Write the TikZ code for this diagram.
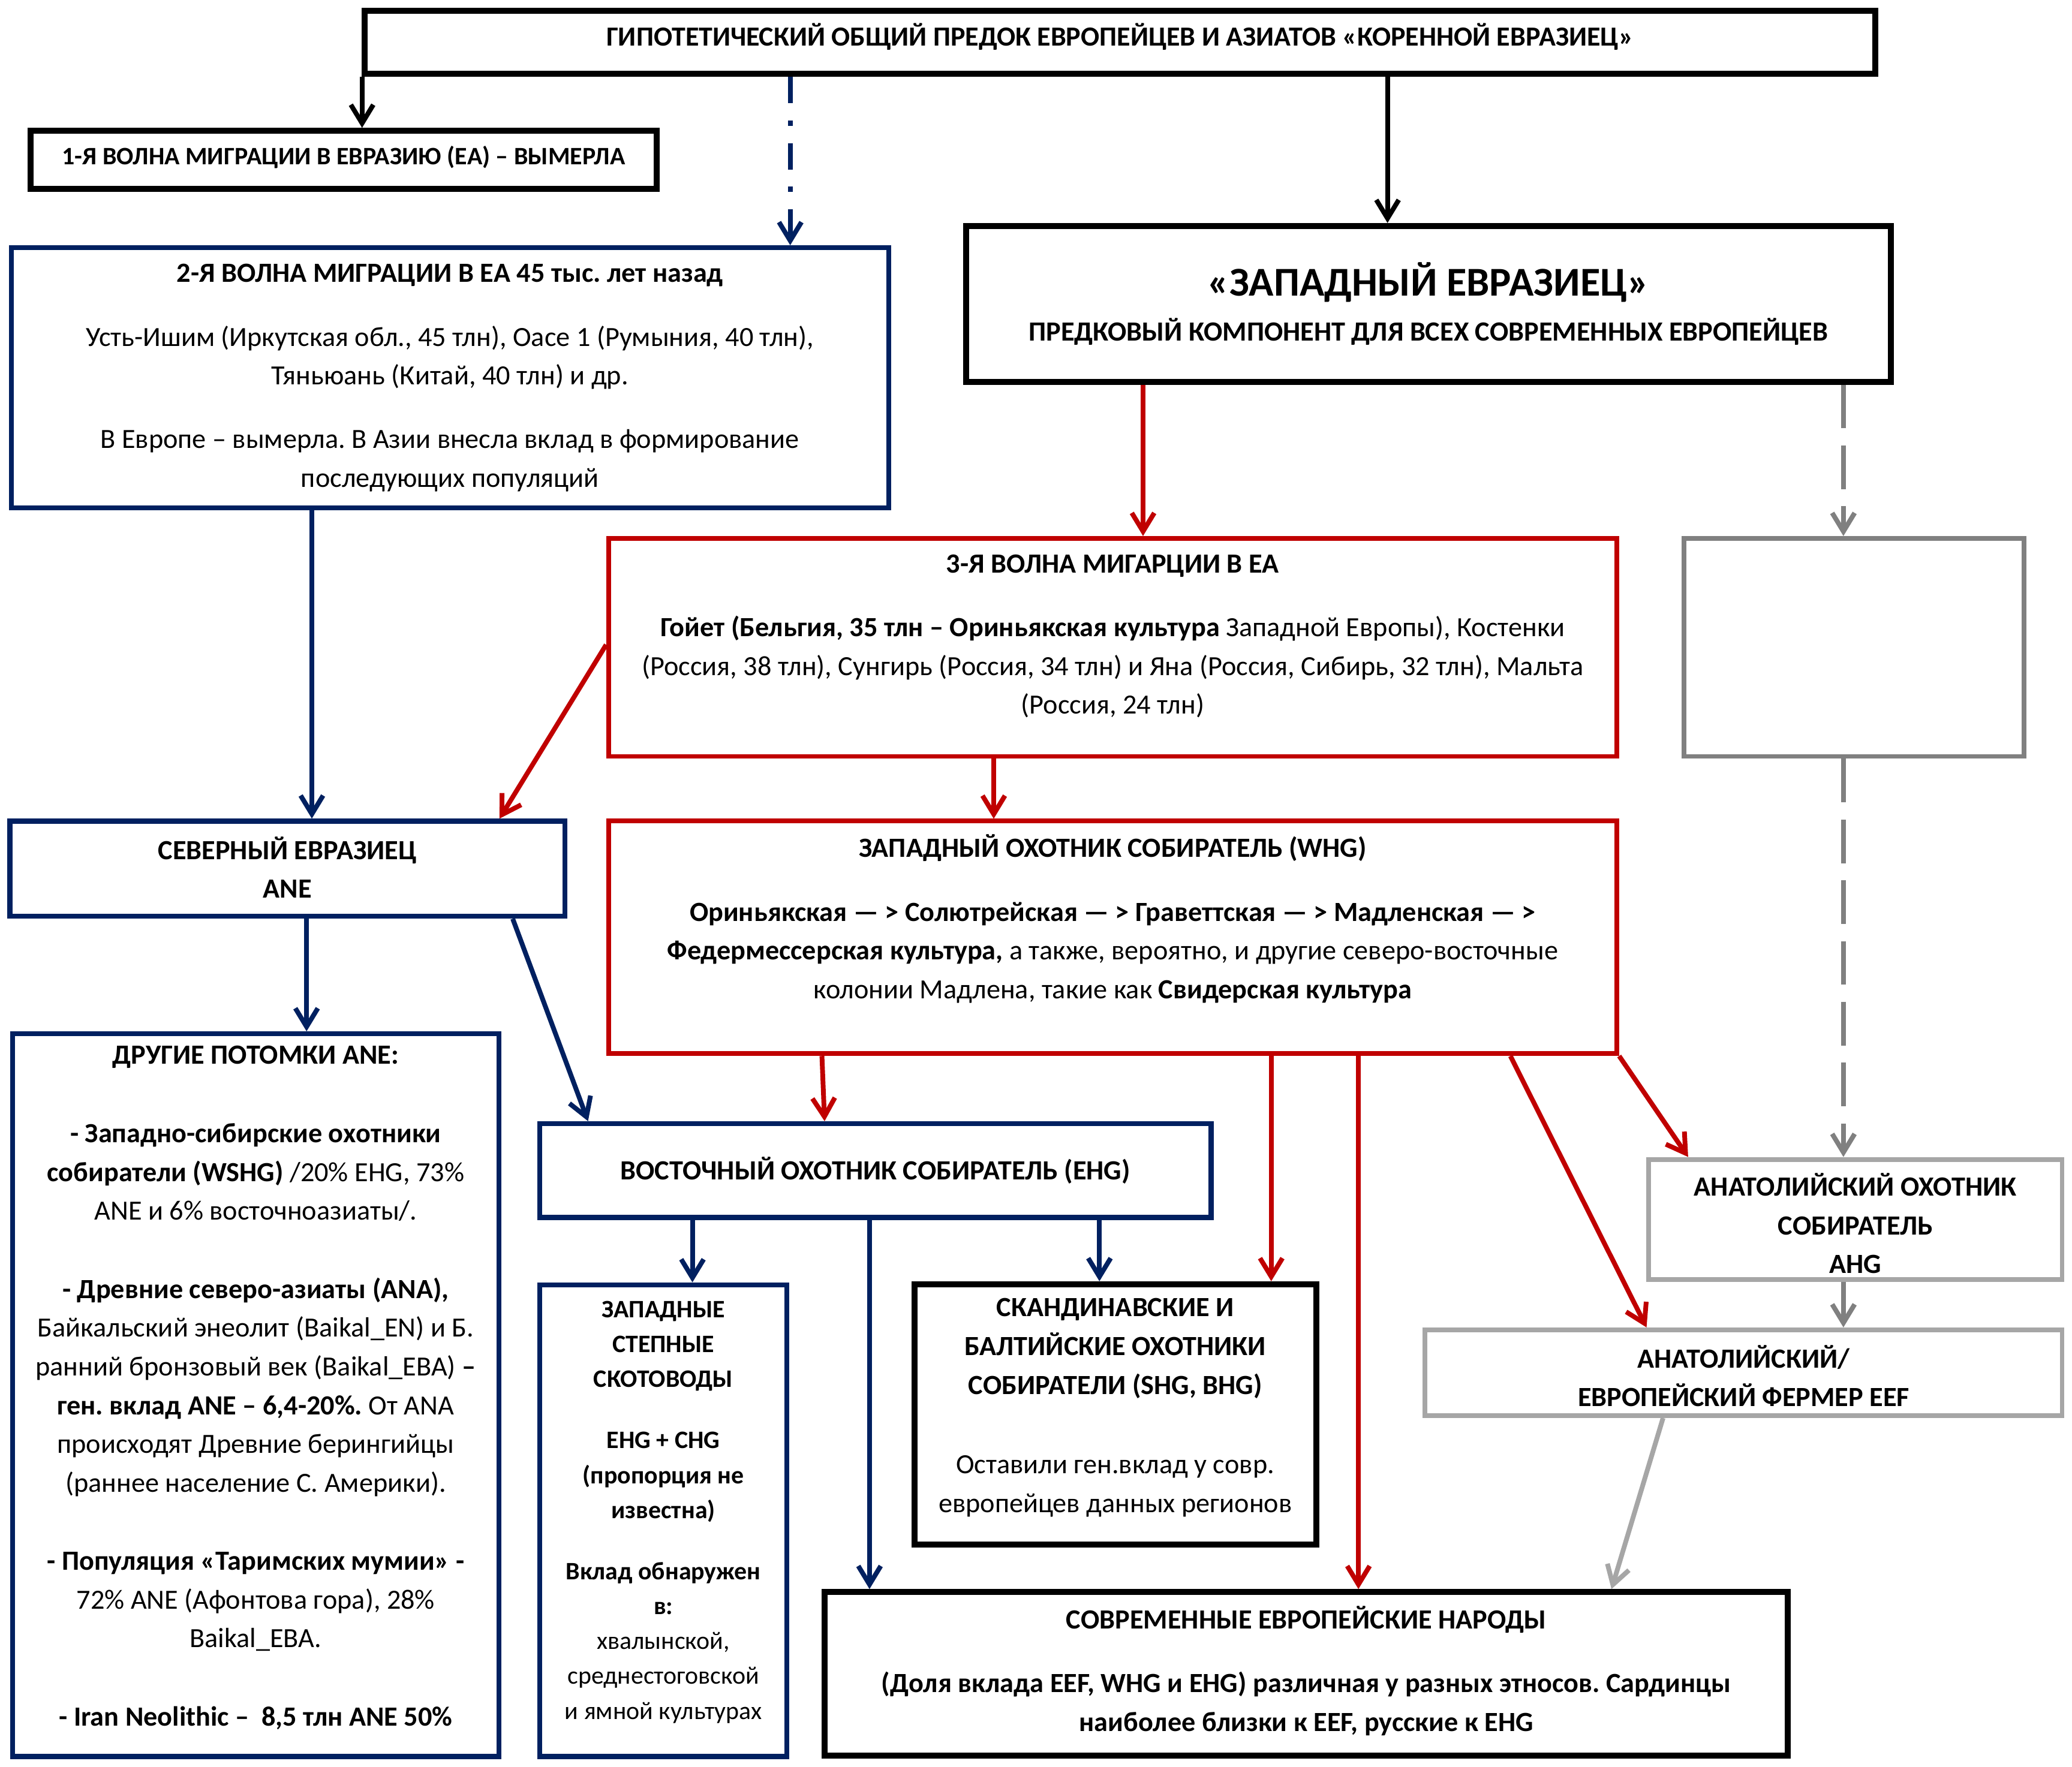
\documentclass[tikz,border=0pt]{standalone}
\usepackage{fontspec}
\setmainfont{Carlito}
\frenchspacing
\usetikzlibrary{arrows.meta,calc}
\definecolor{navy}{HTML}{002060}
\definecolor{dred}{HTML}{C00000}
\definecolor{gdark}{HTML}{808080}
\definecolor{glight}{HTML}{A6A6A6}
\tikzset{
  frame/.style={rectangle, inner sep=0pt, draw=#1},
  bbox/.style={frame=black, line width=4.5pt},
  nbox/.style={frame=navy, line width=3.8pt},
  rbox/.style={frame=dred, line width=3.6pt},
  gbox/.style={frame=gdark, line width=3.6pt},
  lbox/.style={frame=glight, line width=3.6pt},
  txt/.style={align=center, inner sep=0pt, font=\fontsize{#1}{29.3}\selectfont},
  txt/.default=21,
  arr/.style={line width=3.6pt, draw=#1, -{Straight Barb[length=14pt,width=17pt]}},
}
\begin{document}
\begin{tikzpicture}[x=1pt,y=-1pt]
\fill[white] (0,0) rectangle (1568,1337.4);
\useasboundingbox (0,0) rectangle (1568,1337.4);

% boxes
\node[bbox, minimum width=1143pt, minimum height=48pt] (top) at (847.5,32) {};
\node[bbox, minimum width=474pt, minimum height=44pt] (w1) at (260,121) {};
\node[nbox, minimum width=664pt, minimum height=197pt] (w2) at (340.5,286) {};
\node[bbox, minimum width=700pt, minimum height=118pt] (west) at (1081,230) {};
\node[rbox, minimum width=763pt, minimum height=165pt] (w3) at (842,490) {};
\node[gbox, minimum width=257pt, minimum height=165pt] (gray) at (1403,490) {};
\node[nbox, minimum width=420pt, minimum height=72pt] (ane) at (217.5,657.5) {};
\node[rbox, minimum width=763pt, minimum height=176pt] (whg) at (842,709.5) {};
\node[nbox, minimum width=368pt, minimum height=547pt] (desc) at (193.5,1056) {};
\node[nbox, minimum width=508pt, minimum height=71pt] (ehg) at (662.5,886) {};
\node[nbox, minimum width=187pt, minimum height=357pt] (steppe) at (502,1151) {};
\node[bbox, minimum width=304pt, minimum height=197pt] (scand) at (844,1070.5) {};
\node[lbox, minimum width=313pt, minimum height=91pt] (ahg) at (1404,923) {};
\node[lbox, minimum width=482pt, minimum height=65pt] (eef) at (1319.5,1039) {};
\node[bbox, minimum width=729pt, minimum height=124pt] (modern) at (988.5,1267) {};

% texts
\node[txt=20.9] (top-t) at (847.5,28) {\textbf{ГИПОТЕТИЧЕСКИЙ ОБЩИЙ ПРЕДОК ЕВРОПЕЙЦЕВ И АЗИАТОВ «КОРЕННОЙ ЕВРАЗИЕЦ»}};
\node[txt=19] (w1-t) at (260,119) {\textbf{1-Я ВОЛНА МИГРАЦИИ В ЕВРАЗИЮ (ЕА) – ВЫМЕРЛА}};
\node[txt] (w2-t) at (340.5,286) {\textbf{2-Я ВОЛНА МИГРАЦИИ В ЕА 45 тыс. лет назад}\\[19pt]
  Усть-Ишим (Иркутская обл., 45 тлн), Оасе 1 (Румыния, 40 тлн),\\
  Тяньюань (Китай, 40 тлн) и др.\\[19pt]
  В Европе – вымерла. В Азии внесла вклад в формирование\\
  последующих популяций};
\node[txt] (west-t) at (1081,230) {{\fontsize{31}{31}\selectfont\bfseries «ЗАПАДНЫЙ ЕВРАЗИЕЦ»}\\[5pt]
  \textbf{ПРЕДКОВЫЙ КОМПОНЕНТ ДЛЯ ВСЕХ СОВРЕМЕННЫХ ЕВРОПЕЙЦЕВ}};
\node[txt] (w3-t) at (842,481.5) {\textbf{3-Я ВОЛНА МИГАРЦИИ В ЕА}\\[19pt]
  \textbf{Гойет (Бельгия, 35 тлн – Ориньякская культура} Западной Европы), Костенки\\
  (Россия, 38 тлн), Сунгирь (Россия, 34 тлн) и Яна (Россия, Сибирь, 32 тлн), Мальта\\
  (Россия, 24 тлн)};
\node[txt] (ane-t) at (217.5,656.5) {\textbf{СЕВЕРНЫЙ ЕВРАЗИЕЦ}\\ \textbf{ANE}};
\node[txt] (whg-t) at (842,695.5) {\textbf{ЗАПАДНЫЙ ОХОТНИК СОБИРАТЕЛЬ (WHG)}\\[19pt]
  \textbf{Ориньякская — > Солютрейская — > Граветтская — > Мадленская — >}\\
  \textbf{Федермессерская культура,} а также, вероятно, и другие северо-восточные\\
  колонии Мадлена, такие как \textbf{Свидерская культура}};
\node[txt] (desc-t) at (193.5,1050.5) {\textbf{ДРУГИЕ ПОТОМКИ ANE:}\\[30pt]
  \textbf{- Западно-сибирские охотники}\\
  \textbf{собиратели (WSHG)} /20\% EHG, 73\%\\
  ANE и 6\% восточноазиаты/.\\[30pt]
  \textbf{- Древние северо-азиаты (ANA),}\\
  Байкальский энеолит (Baikal\_EN) и Б.\\
  ранний бронзовый век (Baikal\_EBA) \textbf{–}\\
  \textbf{ген. вклад ANE – 6,4-20\%.} От ANA\\
  происходят Древние берингийцы\\
  (раннее население С. Америки).\\[30pt]
  \textbf{- Популяция «Таримских мумии» -}\\
  72\% ANE (Афонтова гора), 28\%\\
  Baikal\_EBA.\\[30pt]
  \textbf{- Iran Neolithic –\ \ 8,5 тлн ANE 50\%}};
\node[txt] (ehg-t) at (662.5,886) {\textbf{ВОСТОЧНЫЙ ОХОТНИК СОБИРАТЕЛЬ (EHG)}};
\node[txt, font=\fontsize{19}{26.4}\selectfont] (steppe-t) at (502,1144.5) {\textbf{ЗАПАДНЫЕ}\\ \textbf{СТЕПНЫЕ}\\ \textbf{СКОТОВОДЫ}\\[20pt]
  \textbf{EHG + CHG}\\ \textbf{(пропорция не}\\ \textbf{известна)}\\[20pt]
  \textbf{Вклад обнаружен}\\ \textbf{в:}\\ хвалынской,\\ среднестоговской\\ и ямной культурах};
\node[txt] (scand-t) at (844,1065.5) {\textbf{СКАНДИНАВСКИЕ И}\\ \textbf{БАЛТИЙСКИЕ ОХОТНИКИ}\\ \textbf{СОБИРАТЕЛИ (SHG, BHG)}\\[31pt]
  Оставили ген.вклад у совр.\\ европейцев данных регионов};
\node[txt] (ahg-t) at (1404,926) {\textbf{АНАТОЛИЙСКИЙ ОХОТНИК}\\ \textbf{СОБИРАТЕЛЬ}\\ \textbf{AHG}};
\node[txt] (eef-t) at (1319.5,1041.5) {\textbf{АНАТОЛИЙСКИЙ/}\\ \textbf{ЕВРОПЕЙСКИЙ ФЕРМЕР EEF}};
\node[txt] (modern-t) at (988.5,1264.5) {\textbf{СОВРЕМЕННЫЕ ЕВРОПЕЙСКИЕ НАРОДЫ}\\[19pt]
  \textbf{(Доля вклада EEF, WHG и EHG) различная у разных этносов. Сардинцы}\\
  \textbf{наиболее близки к EEF, русские к EHG}};

% connectors
\draw[arr=black] ([xshift=-573.5pt]top.south) -- ([xshift=14pt]w1.north);
\draw[arr=navy, dash pattern=on 20pt off 13pt on 4pt off 13pt] ([xshift=-249.5pt]top.south) -- ([xshift=257.5pt]w2.north);
\draw[arr=black] ([xshift=202.5pt]top.south) -- ([xshift=-31pt]west.north);
\draw[arr=dred] ([xshift=-216pt]west.south) -- ([xshift=23pt]w3.north);
\draw[arr=gdark, dash pattern=on 33pt off 13pt] ([xshift=314pt]west.south) -- ([xshift=-8pt]gray.north);
\draw[arr=gdark, dash pattern=on 33pt off 13pt] ([xshift=-8pt]gray.south) -- ([xshift=-9pt]ahg.north);
\draw[arr=navy] ([xshift=-104.5pt]w2.south) -- ([xshift=18.5pt]ane.north);
\draw[arr=dred] ([yshift=2pt]w3.west) -- ([xshift=160.5pt]ane.north);
\draw[arr=dred] ([xshift=-90pt]w3.south) -- ([xshift=-90pt]whg.north);
\draw[arr=navy] ([xshift=14.5pt]ane.south) -- ([xshift=38.5pt]desc.north);
\draw[arr=navy] ([xshift=170.5pt]ane.south) -- ([xshift=-217.5pt]ehg.north);
\draw[arr=dred] ([xshift=-220pt]whg.south) -- ([xshift=-38.5pt]ehg.north);
\draw[arr=dred] ([xshift=120pt]whg.south) -- ([xshift=118pt]scand.north);
\draw[arr=dred] ([xshift=186pt]whg.south) -- ([xshift=39.5pt]modern.north);
\draw[arr=dred] ([xshift=301pt]whg.south) -- ([xshift=-73.5pt]eef.north);
\draw[arr=dred] (whg.south east) -- ([xshift=-126.5pt]ahg.north);
\draw[arr=gdark] ([xshift=-9pt]ahg.south) -- ([xshift=75.5pt]eef.north);
\draw[arr=glight] ([xshift=-61pt]eef.south) -- ([xshift=231pt]modern.north);
\draw[arr=navy] ([xshift=-138.5pt]ehg.south) -- ([xshift=22pt]steppe.north);
\draw[arr=navy] ([xshift=-4.5pt]ehg.south) -- ([xshift=-330.5pt]modern.north);
\draw[arr=navy] ([xshift=169.5pt]ehg.south) -- ([xshift=-12pt]scand.north);
\end{tikzpicture}
\end{document}
